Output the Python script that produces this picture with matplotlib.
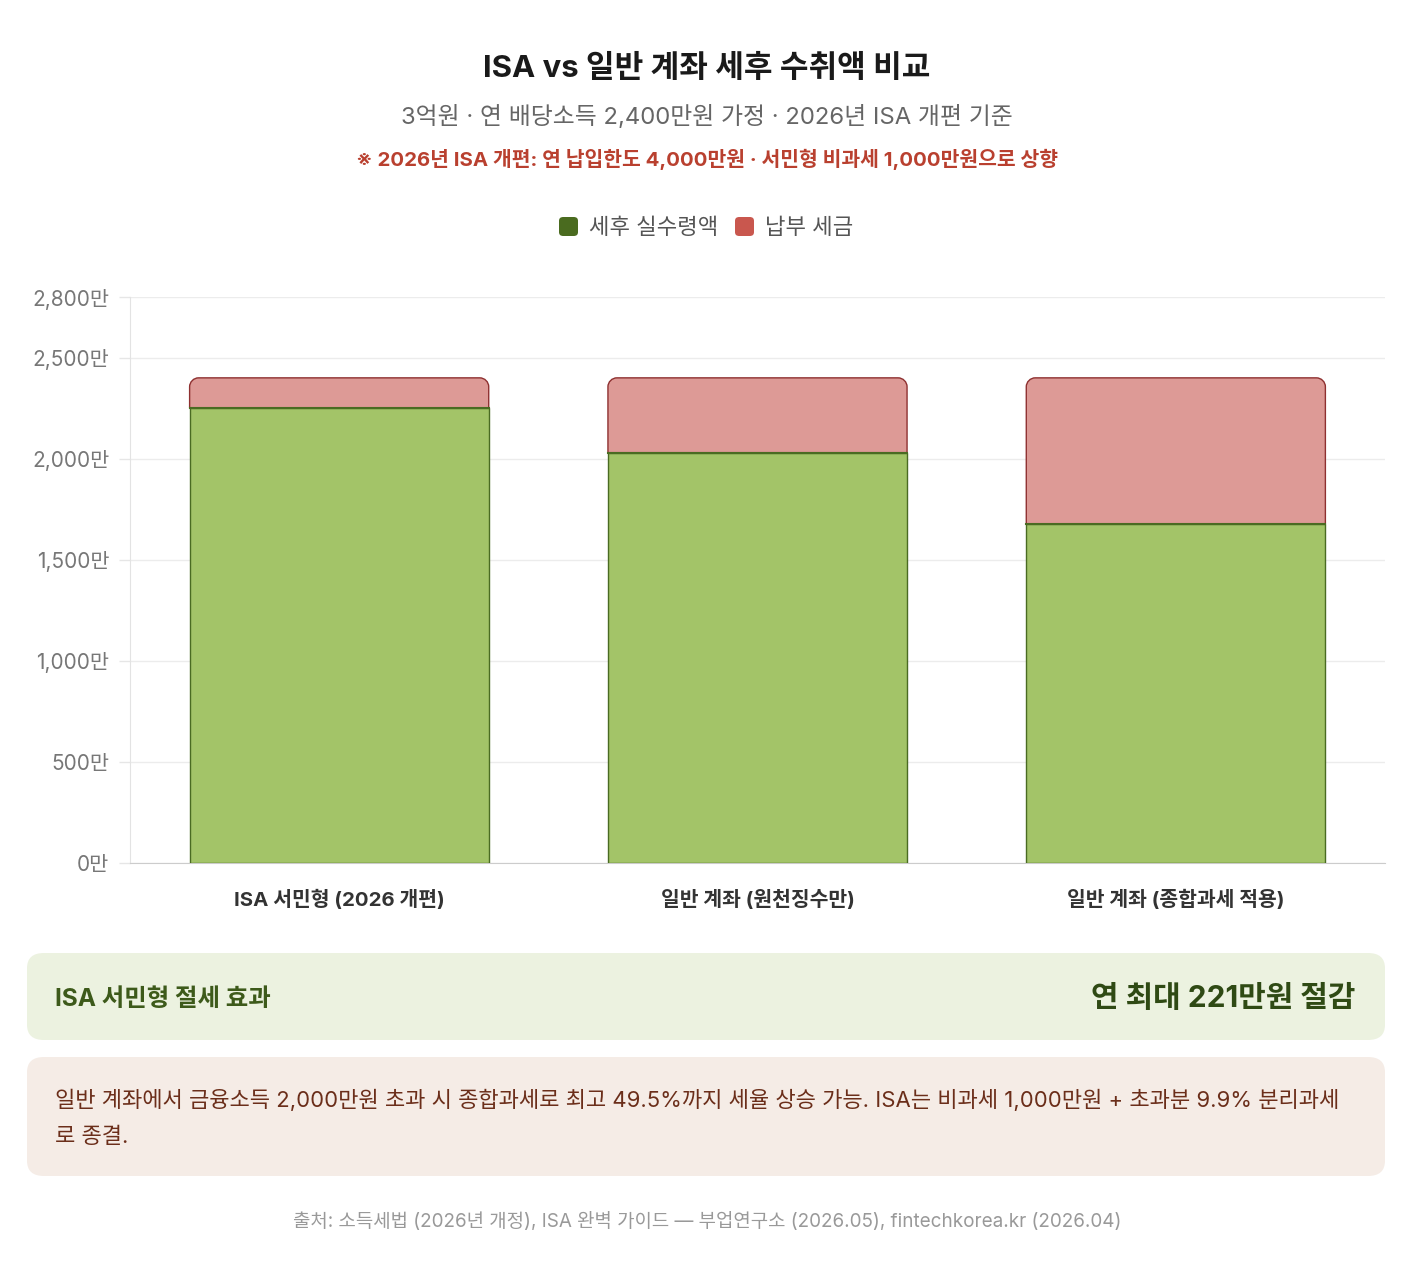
import matplotlib
matplotlib.use("Agg")
import matplotlib.pyplot as plt
from matplotlib.patches import FancyBboxPatch, PathPatch
from matplotlib.path import Path

plt.rcParams['font.family'] = ['Inter', 'Noto Sans CJK KR', 'DejaVu Sans']

# data (만원)
categories = ['ISA 서민형 (2026 개편)', '일반 계좌 (원천징수만)', '일반 계좌 (종합과세 적용)']
after_tax = [2251, 2030, 1677]
tax_paid = [149, 370, 723]
y_ticks = [0, 500, 1000, 1500, 2000, 2500, 2800]
y_labels = ['0만', '500만', '1,000만', '1,500만', '2,000만', '2,500만', '2,800만']

green_fill, green_edge = '#a3c468', '#4a6b22'
red_fill, red_edge = '#dd9a96', '#8e3030'

fig = plt.figure(figsize=(14.14, 12.68), dpi=100)
ax = fig.add_axes([130 / 1414, 1 - 863 / 1268, 1255 / 1414, 566 / 1268])

bar_w = 0.715
x = list(range(len(categories)))
ax.bar(x, after_tax, width=bar_w, color=green_fill, edgecolor=green_edge, linewidth=1, zorder=3)

# rounded top for the tax segment
ax.set_xlim(-0.5, len(categories) - 0.5)
ax.set_ylim(0, 2800)
rx = 9 / 1255 * len(categories)
ry = 9 / 566 * 2800
for xi, base, h in zip(x, after_tax, tax_paid):
    l, r = xi - bar_w / 2, xi + bar_w / 2
    top = base + h
    k = 0.55
    verts = [(l, base), (l, top - ry),
             (l, top - ry + k * ry), (l + rx - k * rx, top), (l + rx, top),
             (r - rx, top),
             (r - rx + k * rx, top), (r, top - ry + k * ry), (r, top - ry),
             (r, base), (l, base)]
    codes = [Path.MOVETO, Path.LINETO,
             Path.CURVE4, Path.CURVE4, Path.CURVE4,
             Path.LINETO,
             Path.CURVE4, Path.CURVE4, Path.CURVE4,
             Path.LINETO, Path.CLOSEPOLY]
    ax.add_patch(PathPatch(Path(verts, codes), facecolor=red_fill, edgecolor=red_edge, linewidth=1, zorder=3))
# redraw green top edge over tax patch
for xi, base in zip(x, after_tax):
    ax.plot([xi - bar_w / 2, xi + bar_w / 2], [base, base], color=green_edge, lw=1.5, zorder=4)

ax.set_yticks(y_ticks)
ax.set_yticklabels(y_labels)
ax.set_xticks(x)
ax.set_xticklabels(categories, fontweight='bold')
ax.tick_params(axis='y', colors='#e6e6e6', labelcolor='#777777', labelsize=15, length=8, width=1, pad=7)
ax.tick_params(axis='x', length=0, labelcolor='#333333', labelsize=14.7, pad=19)
ax.grid(axis='y', color='#ececec', linewidth=1, zorder=0)
for s in ['top', 'right']:
    ax.spines[s].set_visible(False)
ax.spines['left'].set_color('#e3e3e3')
ax.spines['bottom'].set_color('#cccccc')

# titles
fig.text(0.5, 1 - 68 / 1268, 'ISA vs 일반 계좌 세후 수취액 비교', ha='center', va='center',
         fontsize=22.4, fontweight='bold', color='#1a1a1a')
fig.text(0.5, 1 - 117 / 1268, '3억원 · 연 배당소득 2,400만원 가정 · 2026년 ISA 개편 기준', ha='center', va='center',
         fontsize=17.2, color='#666666')
fig.text(0.5, 1 - 159 / 1268, '※ 2026년 ISA 개편: 연 납입한도 4,000만원 · 서민형 비과세 1,000만원으로 상향',
         ha='center', va='center', fontsize=14.7, fontweight='bold', color='#b9402f')

# legend
legend_items = [('세후 실수령액', '#4a6b1f'), ('납부 세금', '#c9574e')]
lx = [559, 735]
for (lab, col), px in zip(legend_items, lx):
    fig.patches.append(FancyBboxPatch((px / 1414, 1 - 236 / 1268), 19 / 1414, 19 / 1268,
                                      boxstyle='round,pad=0,rounding_size=0.003', transform=fig.transFigure,
                                      facecolor=col, edgecolor='none'))
    fig.text((px + 30) / 1414, 1 - 228 / 1268, lab, ha='left', va='center', fontsize=16, color='#555555')

# summary boxes
fig.patches.append(FancyBboxPatch((27 / 1414, 1 - 1040 / 1268), 1358 / 1414, 87 / 1268,
                                  boxstyle='round,pad=0,rounding_size=0.012', transform=fig.transFigure,
                                  facecolor='#ecf2e0', edgecolor='none'))
fig.text(55 / 1414, 1 - 999 / 1268, 'ISA 서민형 절세 효과', ha='left', va='center',
         fontsize=17.6, fontweight='bold', color='#3d5a1a')
fig.text(1355 / 1414, 1 - 999 / 1268, '연 최대 221만원 절감', ha='right', va='center',
         fontsize=21.5, fontweight='bold', color='#2f4a14')

fig.patches.append(FancyBboxPatch((27 / 1414, 1 - 1176 / 1268), 1358 / 1414, 119 / 1268,
                                  boxstyle='round,pad=0,rounding_size=0.012', transform=fig.transFigure,
                                  facecolor='#f5ece6', edgecolor='none'))
fig.text(55 / 1414, 1 - 1100 / 1268,
         '일반 계좌에서 금융소득 2,000만원 초과 시 종합과세로 최고 49.5%까지 세율 상승 가능. ISA는 비과세 1,000만원 + 초과분 9.9% 분리과세',
         ha='left', va='center', fontsize=15.9, color='#6b2e1a')
fig.text(55 / 1414, 1 - 1137 / 1268, '로 종결.', ha='left', va='center', fontsize=15.9, color='#6b2e1a')

fig.text(0.5, 1 - 1222 / 1268, '출처: 소득세법 (2026년 개정), ISA 완벽 가이드 — 부업연구소 (2026.05), fintechkorea.kr (2026.04)',
         ha='center', va='center', fontsize=13.6, color='#999999')

fig.savefig('out.png', dpi=100, facecolor='white')
